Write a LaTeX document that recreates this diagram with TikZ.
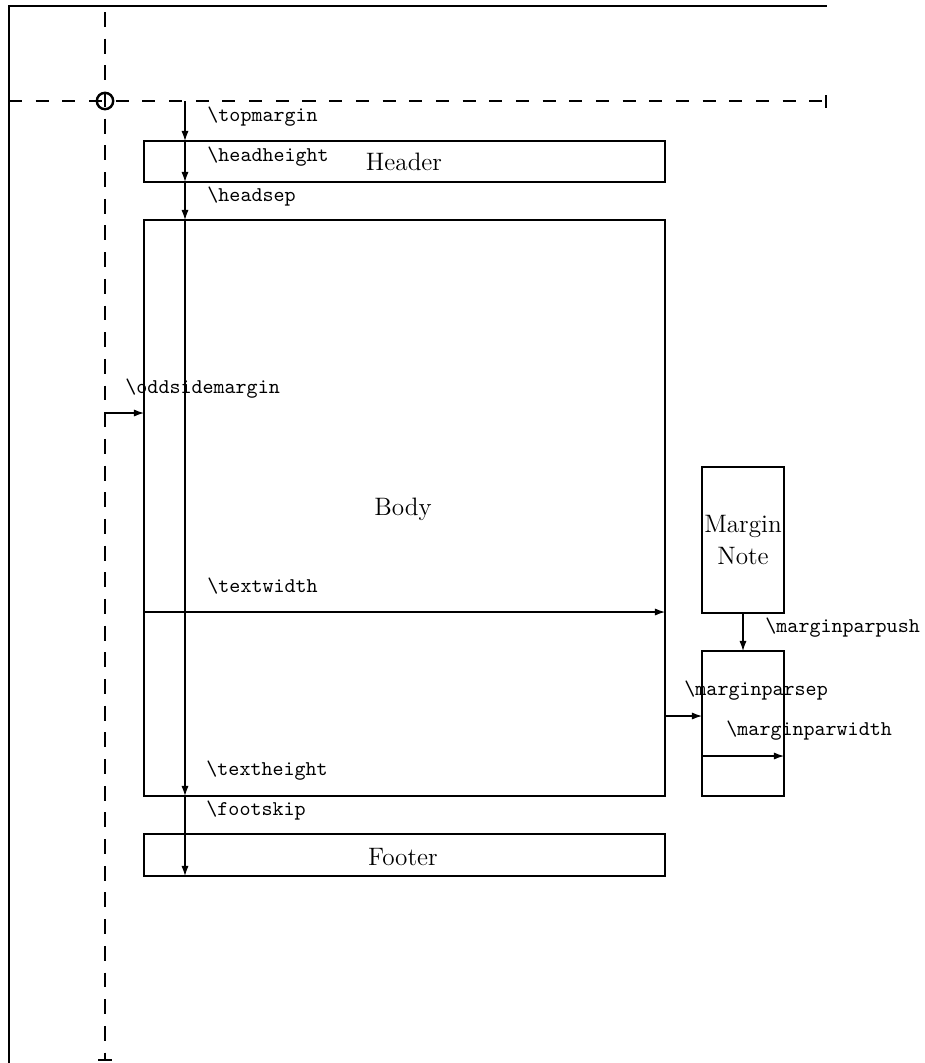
\documentclass[tikz,border=0pt]{standalone}
\usepackage{fontspec}
\usetikzlibrary{arrows.meta}
\begin{document}
\begin{tikzpicture}[x=0.476pt,y=-0.476pt,
  box/.style={line width=1.15pt},
  guide/.style={line width=1.15pt},
  dim/.style={line width=0.55pt,-{Latex[length=4.8pt,width=3.4pt]}},
  lbl/.style={anchor=base west,inner sep=0pt,font=\fontsize{10}{12}\ttfamily},
  big/.style={inner sep=0pt,font=\fontsize{12}{15.2}\selectfont,align=center}]
\useasboundingbox (0,0) rectangle (925,1063);
% page frame and origin guides
\coordinate (frameBL) at (9,1063);
\coordinate (frameTL) at (9,6);
\coordinate (frameTR) at (827,6);
\draw[guide] (frameBL) -- (frameTL) -- (frameTR);
\coordinate (hL) at (9,101);
\coordinate (hR) at (826,101);
\draw[guide,dash pattern=on 6.2pt off 6.5pt] (hL) -- (hR);
\draw[guide] (826,95) -- (826,108);
\coordinate (vT) at (105,12);
\coordinate (vB) at (105,1060);
\draw[guide,dash pattern=on 7.1pt off 5.6pt] (vT) -- (vB);
\draw[guide] (98,1060) -- (112,1060);
\coordinate (origin) at (105,101);
\draw[guide] (origin) circle[radius=3.9pt];
% boxes
\draw[box] (144,141) rectangle (665,182);
\draw[box] (144,220) rectangle (665,796);
\draw[box] (144,834) rectangle (665,876);
\draw[box] (702,467) rectangle (784,613);
\draw[box] (702,651) rectangle (784,796);
% box texts
\node[big,anchor=base] (header) at (404,170) {Header};
\node[big,anchor=base] (body) at (403,515) {Body};
\node[big,anchor=base] (footer) at (403,865) {Footer};
\node[big] (note) at (743,540) {Margin\\Note};
% arrow end points
\coordinate (a0) at (185,101);
\coordinate (a1) at (185,141);
\coordinate (a2) at (185,182);
\coordinate (a3) at (185,220);
\coordinate (a4) at (185,796);
\coordinate (a5) at (185,876);
\draw[dim] (a0) -- (a1);
\draw[dim] (a1) -- (a2);
\draw[dim] (a2) -- (a3);
\draw[dim] (a3) -- (a4);
\draw[dim] (a4) -- (a5);
\coordinate (os0) at (105,413);
\coordinate (os1) at (144,413);
\draw[dim] (os0) -- (os1);
\coordinate (tw0) at (144,612);
\coordinate (tw1) at (665,612);
\draw[dim] (tw0) -- (tw1);
\coordinate (ms0) at (665,716);
\coordinate (ms1) at (702,716);
\draw[dim] (ms0) -- (ms1);
\coordinate (mw0) at (702,756);
\coordinate (mw1) at (784,756);
\draw[dim] (mw0) -- (mw1);
\coordinate (mp0) at (743,613);
\coordinate (mp1) at (743,651);
\draw[dim] (mp0) -- (mp1);
% labels
\node[lbl] (l1) at (207,121) {\textbackslash topmargin};
\node[lbl] (l2) at (207,161) {\textbackslash headheight};
\node[lbl] (l3) at (207,201) {\textbackslash headsep};
\node[lbl] (l4) at (125,393) {\textbackslash oddsidemargin};
\node[lbl] (l5) at (207,592) {\textbackslash textwidth};
\node[lbl] (l6) at (765,632) {\textbackslash marginparpush};
\node[lbl] (l7) at (684,695) {\textbackslash marginparsep};
\node[lbl] (l8) at (726,735) {\textbackslash marginparwidth};
\node[lbl] (l9) at (206,775) {\textbackslash textheight};
\node[lbl] (l10) at (206,815) {\textbackslash footskip};
\end{tikzpicture}
\end{document}
